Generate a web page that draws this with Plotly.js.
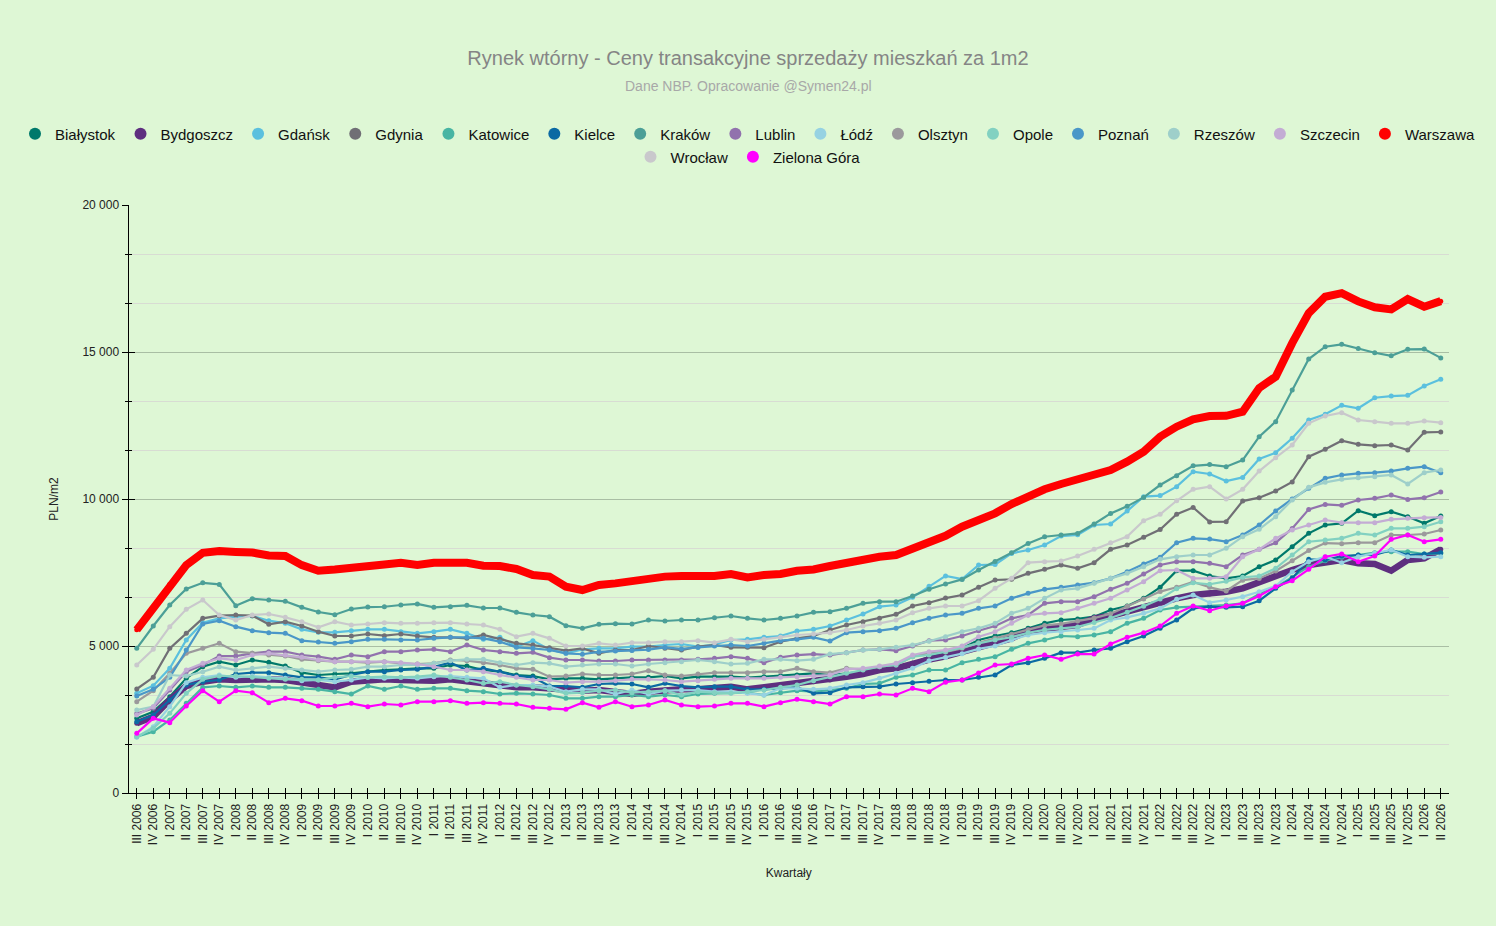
<!DOCTYPE html>
<html>
<head>
<meta charset="utf-8">
<script src="https://cdn.plot.ly/plotly-3.0.1.min.js"></script>
<style>
html,body{margin:0;padding:0;background:#def7d5;overflow:hidden;}
#chart{width:1496px;height:926px;}
</style>
</head>
<body>
<div id="chart"></div>
<script>
const quarters = [
"III 2006","IV 2006",
"I 2007","II 2007","III 2007","IV 2007",
"I 2008","II 2008","III 2008","IV 2008",
"I 2009","II 2009","III 2009","IV 2009",
"I 2010","II 2010","III 2010","IV 2010",
"I 2011","II 2011","III 2011","IV 2011",
"I 2012","II 2012","III 2012","IV 2012",
"I 2013","II 2013","III 2013","IV 2013",
"I 2014","II 2014","III 2014","IV 2014",
"I 2015","II 2015","III 2015","IV 2015",
"I 2016","II 2016","III 2016","IV 2016",
"I 2017","II 2017","III 2017","IV 2017",
"I 2018","II 2018","III 2018","IV 2018",
"I 2019","II 2019","III 2019","IV 2019",
"I 2020","II 2020","III 2020","IV 2020",
"I 2021","II 2021","III 2021","IV 2021",
"I 2022","II 2022","III 2022","IV 2022",
"I 2023","II 2023","III 2023","IV 2023",
"I 2024","II 2024","III 2024","IV 2024",
"I 2025","II 2025","III 2025","IV 2025",
"I 2026","II 2026"
];

const cities = ["Białystok","Bydgoszcz","Gdańsk","Gdynia","Katowice","Kielce","Kraków","Lublin","Łódź","Olsztyn","Opole","Poznań","Rzeszów","Szczecin","Warszawa","Wrocław","Zielona Góra"];

const bialystok = [2540,2766,3276,3900,4296,4466,4354,4523,4444,4320,4093,4013,4047,4070,4126,4183,4206,4240,4240,4354,4320,4183,4126,4013,3979,3866,3900,3900,3866,3900,3934,3934,3979,3900,3956,3957,3957,3922,3957,3979,4013,4070,4013,4070,4126,4183,4274,4410,4636,4750,4920,5204,5340,5450,5600,5771,5884,5920,5997,6224,6360,6620,6995,7562,7562,7380,7300,7380,7698,7925,8378,8832,9115,9171,9602,9433,9568,9398,9171,9421];
const bydgoszcz = [2370,2597,3163,3639,3786,3866,3843,3866,3866,3843,3752,3639,3593,3786,3843,3866,3843,3820,3820,3866,3786,3730,3639,3593,3593,3560,3503,3480,3503,3446,3367,3446,3503,3526,3526,3560,3617,3526,3594,3674,3753,3786,3843,3957,4047,4183,4240,4410,4540,4650,4807,4977,5113,5260,5521,5600,5657,5714,5940,6020,6167,6314,6508,6621,6734,6768,6847,6961,7188,7415,7585,7755,7868,7925,7811,7789,7562,7925,7981,8287];
const gdansk = [3390,3650,4240,5204,5793,5941,5997,6020,5861,5771,5567,5465,5465,5521,5567,5567,5487,5431,5487,5567,5431,5227,5295,4977,5182,4886,4750,4886,4920,4920,4977,4977,5034,5068,4977,5050,5204,5227,5295,5340,5510,5567,5680,5884,6088,6337,6394,6655,7030,7385,7275,7755,7770,8150,8265,8435,8740,8780,9115,9150,9590,10080,10115,10420,10930,10850,10610,10735,11360,11575,12065,12685,12880,13185,13085,13445,13500,13525,13840,14070];
const gdynia = [3537,3934,4920,5431,5941,6032,6054,6032,5737,5827,5680,5487,5340,5340,5408,5351,5408,5340,5295,5295,5260,5374,5226,5090,5034,4943,4841,4920,4750,4863,4863,5000,4920,4863,4977,5034,4954,4954,4943,5147,5260,5340,5544,5714,5827,5940,6077,6360,6473,6630,6734,6995,7245,7267,7471,7607,7755,7641,7834,8287,8434,8695,8960,9480,9710,9220,9230,9930,10045,10272,10578,11440,11690,11984,11859,11814,11836,11666,12267,12279];
const katowice = [1916,2086,2483,3050,3593,3639,3593,3639,3593,3593,3560,3526,3446,3367,3639,3526,3639,3526,3560,3560,3480,3446,3367,3390,3367,3333,3220,3220,3276,3276,3333,3276,3333,3276,3367,3390,3412,3412,3333,3412,3480,3446,3503,3560,3707,3730,3934,4013,4183,4183,4432,4546,4637,4886,5091,5204,5340,5317,5374,5487,5771,5940,6224,6314,6337,6360,6394,6451,6768,6995,7335,7698,7902,8016,8095,8175,8209,8209,8130,8152];
const kielce = [2427,2653,3163,3673,3786,3843,4047,4093,4093,4013,3934,3934,3866,4013,4126,4126,4183,4206,4296,4432,4183,4240,4126,3979,3934,3639,3639,3593,3707,3730,3707,3593,3730,3639,3593,3617,3617,3526,3526,3560,3594,3390,3412,3594,3617,3617,3707,3753,3800,3843,3843,3934,4013,4353,4432,4580,4773,4773,4863,4920,5147,5340,5600,5884,6280,6337,6314,6337,6541,6961,7301,7948,7925,8061,8095,8095,8265,8095,8130,8175];
const krakow = [4920,5680,6395,6940,7150,7095,6370,6610,6565,6520,6315,6155,6065,6260,6325,6335,6395,6430,6315,6337,6382,6292,6292,6145,6055,5997,5691,5600,5737,5759,5748,5884,5850,5884,5884,5960,6020,5940,5884,5940,6020,6145,6167,6280,6450,6507,6507,6700,6930,7110,7265,7585,7870,8175,8490,8715,8775,8830,9150,9510,9750,10055,10475,10790,11130,11170,11100,11325,12120,12630,13705,14760,15180,15260,15120,14975,14870,15090,15100,14800];
const lublin = [2700,2880,3503,4126,4354,4659,4659,4750,4807,4807,4693,4637,4546,4693,4637,4807,4807,4863,4886,4807,5034,4863,4807,4750,4784,4603,4523,4523,4489,4489,4523,4523,4523,4523,4546,4580,4637,4580,4432,4614,4693,4727,4693,4773,4863,4886,4841,5000,5181,5204,5340,5521,5680,5940,6054,6451,6508,6508,6678,6927,7131,7449,7755,7868,7868,7811,7698,8095,8287,8514,9000,9647,9817,9784,9965,10022,10135,9987,10044,10237];
const lodz = [1893,2256,2936,3752,3934,4013,3934,3979,3934,3900,3820,3843,3786,3843,3934,3900,3934,3900,3956,3979,3934,3900,3593,3673,3673,3616,3446,3526,3526,3367,3503,3367,3480,3503,3503,3446,3446,3390,3333,3560,3560,3526,3560,3674,3753,3900,4070,4240,4500,4610,4740,4900,5000,5204,5374,5453,5487,5544,5600,5884,5975,6110,6280,6587,6734,6473,6564,6678,6847,7040,7528,7868,8038,7834,8038,8152,8265,8038,8016,8038];
const olsztyn = [3106,3480,4070,4750,4920,5091,4807,4750,4693,4659,4546,4500,4466,4466,4432,4466,4410,4387,4410,4523,4500,4432,4354,4240,4206,3957,3979,4047,4013,4013,4047,4160,4013,3979,4047,4093,4093,4093,4126,4126,4240,4126,4093,4240,4206,4296,4354,4637,4773,4800,4920,5113,5260,5400,5550,5700,5750,5850,5950,6100,6350,6600,6850,7000,7180,7000,6870,7240,7300,7550,7900,8250,8500,8480,8514,8514,8775,8775,8809,8945];
const opole = [1916,2200,2710,3390,3866,3979,3979,3934,3900,3866,3866,3843,3934,3979,3934,3957,3934,3957,4013,3934,3843,3730,3786,3673,3616,3526,3390,3412,3480,3503,3412,3446,3480,3333,3446,3412,3390,3446,3503,3594,3674,3821,3957,4070,4183,4296,4354,4637,4693,4807,4950,5091,5204,5300,5450,5550,5600,5650,5800,5950,6150,6350,6600,6950,7150,7100,7200,7335,7380,7641,8095,8547,8604,8661,8832,8775,9001,9001,9058,9228];
const poznan = [3300,3526,3934,4863,5748,5861,5657,5521,5453,5431,5181,5136,5091,5147,5227,5227,5204,5204,5260,5295,5295,5260,5147,4954,4920,4863,4750,4720,4800,4830,4850,4880,4950,4900,4950,5000,5034,5000,5091,5181,5227,5295,5170,5453,5487,5521,5600,5793,5940,6054,6110,6280,6360,6621,6791,6927,6995,7074,7154,7301,7528,7789,8016,8514,8661,8638,8548,8775,9115,9591,10000,10362,10702,10815,10872,10895,10951,11042,11098,10895];
const rzeszow = [2823,2936,4013,3979,4126,4296,4183,4240,4296,4240,4183,4126,4183,4206,4296,4296,4354,4354,4410,4500,4546,4546,4432,4354,4432,4410,4296,4354,4387,4387,4320,4387,4432,4466,4523,4466,4387,4410,4546,4546,4500,4546,4727,4773,4863,4886,4954,5034,5160,5317,5487,5600,5771,6110,6280,6621,6904,6961,7131,7301,7471,7698,7948,8038,8095,8095,8321,8718,8967,9400,9965,10397,10567,10669,10726,10760,10817,10510,10896,10986];
const szczecin = [2653,2936,3560,4183,4410,4580,4523,4693,4750,4693,4614,4523,4466,4466,4466,4466,4432,4387,4296,4183,4183,4126,4013,3934,3843,3843,3752,3786,3786,3820,3866,3866,3843,3786,3820,3866,3900,3900,3900,3934,3957,3979,4013,4206,4240,4320,4410,4693,4807,4863,5000,5317,5487,5771,6054,6110,6133,6280,6451,6621,6904,7188,7562,7585,7301,7301,7358,8038,8287,8661,8945,9115,9285,9194,9194,9194,9308,9341,9364,9375];
const warszawa = [5550,6300,7100,7750,8170,8230,8200,8180,8080,8060,7750,7560,7600,7640,7700,7775,7832,7755,7832,7845,7832,7730,7720,7620,7415,7360,7017,6904,7074,7130,7220,7300,7360,7380,7360,7380,7450,7335,7415,7450,7560,7605,7720,7832,7980,8036,8095,8320,8510,8750,9057,9285,9512,9830,10100,10330,10510,10690,10840,10985,11270,11610,12120,12460,12710,12820,12830,12970,13775,14160,15300,16320,16880,17000,16720,16520,16450,16800,16540,16730];
const wroclaw = [4354,4886,5657,6247,6564,6054,5884,6054,6088,5975,5827,5635,5827,5714,5748,5793,5771,5771,5793,5793,5748,5714,5567,5317,5431,5260,5000,5000,5091,5034,5113,5113,5147,5147,5181,5113,5227,5147,5227,5295,5374,5408,5453,5544,5680,5771,5884,6133,6280,6360,6360,6541,6961,7301,7834,7868,7891,8061,8287,8514,8720,9262,9480,9940,10329,10420,10000,10329,10951,11405,11836,12573,12822,12936,12686,12630,12573,12573,12652,12596];
const zielonaGora = [2030,2540,2393,2959,3480,3106,3480,3412,3073,3220,3140,2959,2959,3050,2936,3027,2993,3106,3106,3140,3050,3073,3050,3027,2914,2880,2846,3073,2914,3106,2936,2993,3163,2993,2936,2959,3050,3050,2936,3073,3186,3106,3027,3276,3276,3367,3333,3560,3446,3770,3843,4080,4353,4387,4580,4693,4546,4727,4727,5068,5295,5453,5680,6110,6360,6201,6360,6451,6700,7017,7222,7607,8038,8130,7868,8061,8627,8775,8548,8627];

const seriesValues = [bialystok,bydgoszcz,gdansk,gdynia,katowice,kielce,krakow,lublin,lodz,olsztyn,opole,poznan,rzeszow,szczecin,warszawa,wroclaw,zielonaGora];
const colors = ["#00796b","#5e2f7f","#5bc0de","#706f75","#48b5a3","#0b6aa3","#4c9f97","#9172ad","#96d2e2","#9b999c","#82d1c1","#4a97c8","#9ecfca","#c3acd4","#ff0000","#c9c8cc","#ff00ff"];
const lineWidths = [2.2,6.5,2.2,2.2,2.2,2.2,2.2,2.2,2.2,2.2,2.2,2.2,2.2,2.2,8,2.2,2.2];

const traces = [];
cities.forEach(function(name, k){
  traces.push({
    type:'scatter', mode:'lines+markers', name:name,
    x: quarters, y: seriesValues[k],
    xaxis:'x', yaxis:'y',
    line:{color:colors[k], width:lineWidths[k]},
    marker:{color:colors[k], size:5},
    legendgroup:name, showlegend:false
  });
});
cities.forEach(function(name, k){
  traces.push({
    type:'scatter', mode:'markers', name:name,
    x:[null], y:[null], xaxis:'x2', yaxis:'y2',
    marker:{color:colors[k], size:12},
    legendgroup:name, showlegend:true,
    legend: k < 15 ? 'legend' : 'legend2',
    hoverinfo:'skip'
  });
});

const W = 1496, H = 926;
const xDom = [128.5/W, 1449/W];
const yDom = [(H-793)/H, (H-205)/H];
const font = "Arial, 'Liberation Sans', sans-serif";

const layout = {
  width:W, height:H,
  margin:{l:0,r:0,t:0,b:0},
  paper_bgcolor:'#def7d5', plot_bgcolor:'#def7d5',
  font:{family:font, size:12, color:'#222'},
  separators:', ',
  showlegend:true,
  title:{text:'Rynek wtórny - Ceny transakcyjne sprzedaży mieszkań za 1m2', x:0.5, xanchor:'center', y:1-58/H, yanchor:'middle', font:{family:font, size:20, color:'#858585'}},
  annotations:[
    {text:'Dane NBP. Opracowanie @Symen24.pl', xref:'paper', yref:'paper', x:0.5, y:1-86/H, xanchor:'center', yanchor:'middle', showarrow:false, font:{family:font, size:14, color:'#a8a8a8'}}
  ],
  legend:{orientation:'h', x:0.5, xanchor:'center', y:1-134/H, yanchor:'middle', font:{family:font, size:15, color:'#111'}, bgcolor:'rgba(0,0,0,0)', traceorder:'normal'},
  legend2:{orientation:'h', x:0.5, xanchor:'center', y:1-157/H, yanchor:'middle', font:{family:font, size:15, color:'#111'}, bgcolor:'rgba(0,0,0,0)', traceorder:'normal'},
  xaxis:{
    type:'category', categoryorder:'array', categoryarray:quarters,
    domain:xDom, anchor:'y', range:[-0.5, quarters.length-0.5],
    showline:true, linecolor:'#000', linewidth:1,
    ticks:'outside', ticklen:5, tickcolor:'#000', tickwidth:1,
    tickangle:-90, tickfont:{size:12, color:'#222'},
    showgrid:false, zeroline:false, automargin:false,
    title:{text:'Kwartały', font:{size:12, color:'#222'}, standoff:24}
  },
  yaxis:{
    domain:yDom, anchor:'x', range:[0,20000], tick0:0, dtick:5000,
    tickformat:',d', showline:true, linecolor:'#000', linewidth:1,
    ticks:'outside', ticklen:6, tickcolor:'#000', tickwidth:1,
    tickfont:{size:12, color:'#222'},
    showgrid:true, gridcolor:'#a9bea4', gridwidth:1, zeroline:false, automargin:false,
    minor:{tick0:0, dtick:5000/3, ticks:'outside', ticklen:3, tickcolor:'#000', showgrid:true, gridcolor:'#d8dcd3', gridwidth:1},
    title:{text:'PLN/m2', font:{size:12, color:'#222'}, standoff:21}
  },
  xaxis2:{
    type:'linear', overlaying:'x', anchor:'y', side:'bottom', range:[-0.5, quarters.length-0.5],
    tick0:0, dtick:1, ticks:'inside', ticklen:5, tickcolor:'#000', tickwidth:1,
    showticklabels:false, showgrid:false, zeroline:false, showline:false, fixedrange:true
  },
  yaxis2:{
    overlaying:'y', anchor:'x', side:'left', range:[0,20000], tick0:0, dtick:5000,
    ticks:'inside', ticklen:6, tickcolor:'#000', tickwidth:1,
    showticklabels:false, showgrid:false, zeroline:false, showline:false, fixedrange:true,
    minor:{tick0:0, dtick:5000/3, ticks:'inside', ticklen:3, tickcolor:'#000', showgrid:false}
  },
  hovermode:'closest'
};

Plotly.newPlot('chart', traces, layout, {displayModeBar:false, responsive:false});
</script>
</body>
</html>
